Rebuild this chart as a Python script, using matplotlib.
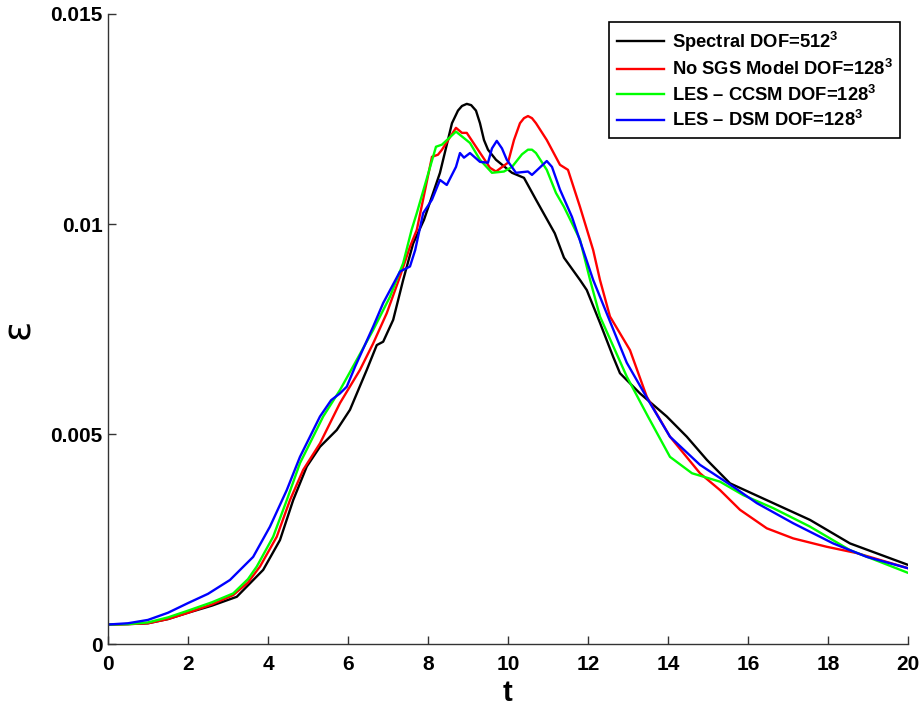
import numpy as np
import matplotlib
matplotlib.use('Agg')
import matplotlib.pyplot as plt

plt.rcParams['font.family'] = ['Liberation Sans', 'DejaVu Sans']
plt.rcParams['font.weight'] = 'bold'
plt.rcParams['mathtext.fontset'] = 'custom'
plt.rcParams['mathtext.rm'] = 'Liberation Sans'
plt.rcParams['mathtext.bf'] = 'Liberation Sans:bold'

# Spectral DOF=512^3 (black)
t_spec = [0, 0.5, 1, 1.5, 2, 2.6, 3.22, 3.88, 4.3, 4.63, 4.97, 5.3, 5.72, 6.05, 6.47, 6.72,
          6.88, 7.13, 7.38, 7.63, 7.9, 8.3, 8.6, 8.75, 8.85, 8.97, 9.08, 9.2, 9.3, 9.4, 9.5,
          9.7, 10.1, 10.4, 10.7, 11.17, 11.4, 11.8, 11.97, 12.3, 12.63, 12.8, 13.3, 13.97,
          14.47, 14.97, 15.55, 16.63, 17.55, 18.55, 20]
eps_spec = [0.00047, 0.00048, 0.0005, 0.0006, 0.00075, 0.00092, 0.00113, 0.00177, 0.00248,
            0.00343, 0.00423, 0.0047, 0.0051, 0.00558, 0.00653, 0.00712, 0.0072, 0.00772,
            0.00867, 0.00954, 0.0101, 0.01122, 0.0124, 0.0127, 0.01281, 0.01286, 0.01283,
            0.0127, 0.0124, 0.0120, 0.01177, 0.01153, 0.01122, 0.0111, 0.01058, 0.00978,
            0.0092, 0.00867, 0.00843, 0.00765, 0.00684, 0.00645, 0.00597, 0.00542, 0.00494,
            0.00439, 0.00383, 0.00336, 0.00296, 0.0024, 0.00189]

# No SGS model DOF=128^3 (red)
t_nosgs = [0, 0.5, 1, 1.5, 2, 2.6, 3.13, 3.5, 3.8, 4.22, 4.55, 4.88, 5.3, 5.8, 6.3, 6.63,
           6.97, 7.3, 7.55, 7.72, 8.1, 8.25, 8.35, 8.7, 8.85, 8.97, 9.2, 9.55, 9.7, 10.0,
           10.15, 10.3, 10.4, 10.5, 10.6, 10.7, 10.97, 11.3, 11.5, 11.8, 12.13, 12.3, 12.55,
           13.05, 13.47, 14.05, 14.8, 15.3, 15.8, 16.47, 17.13, 17.97, 18.72, 20]
eps_nosgs = [0.00047, 0.00048, 0.0005, 0.0006, 0.00075, 0.00095, 0.00117, 0.00147, 0.00185,
             0.00256, 0.00343, 0.00415, 0.00478, 0.00574, 0.00653, 0.00716, 0.00788, 0.00875,
             0.00946, 0.00986, 0.0116, 0.01165, 0.01177, 0.01229, 0.01217, 0.01217, 0.01184,
             0.01134, 0.01125, 0.01146, 0.0120, 0.0124, 0.01252, 0.01257, 0.01252, 0.0124,
             0.012, 0.01141, 0.01129, 0.01041, 0.00938, 0.00867, 0.0078, 0.0070, 0.00589,
             0.00494, 0.00407, 0.00367, 0.0032, 0.00276, 0.00252, 0.00232, 0.00217, 0.00181]

# LES - CCSM DOF=128^3 (green)
t_ccsm = [0, 0.5, 1, 1.5, 2, 2.6, 3.13, 3.5, 3.72, 4.13, 4.47, 4.8, 5.13, 5.38, 5.8, 6.22,
          6.63, 7.05, 7.38, 7.59, 7.72, 8.2, 8.35, 8.7, 9.05, 9.3, 9.6, 9.9, 10.1, 10.35,
          10.5, 10.6, 10.7, 10.97, 11.2, 11.4, 11.8, 12.05, 12.3, 12.97, 13.5, 14.05, 14.6,
          15.3, 15.88, 16.63, 17.55, 18.55, 20]
eps_ccsm = [0.00047, 0.00048, 0.00052, 0.00064, 0.0008, 0.001, 0.00121, 0.00155, 0.00185,
            0.00256, 0.00343, 0.00431, 0.00494, 0.00542, 0.00605, 0.00677, 0.00748, 0.00827,
            0.00907, 0.00986, 0.01026, 0.01184, 0.01189, 0.0122, 0.01193, 0.01153, 0.01122,
            0.01125, 0.01136, 0.01166, 0.01177, 0.01177, 0.01169, 0.01129, 0.01074, 0.01041,
            0.00963, 0.00868, 0.0078, 0.00637, 0.00542, 0.00446, 0.00407, 0.00387, 0.00355,
            0.00324, 0.0028, 0.00224, 0.0017]

# LES - DSM DOF=128^3 (blue)
t_dsm = [0, 0.5, 1, 1.5, 2, 2.5, 3.05, 3.63, 4.05, 4.47, 4.8, 5.05, 5.3, 5.58, 5.8, 5.97,
         6.18, 6.63, 6.88, 7.3, 7.55, 7.68, 7.88, 8.1, 8.3, 8.47, 8.7, 8.8, 8.9, 9.05, 9.3,
         9.5, 9.6, 9.72, 9.85, 9.97, 10.2, 10.5, 10.6, 10.97, 11.1, 11.3, 11.6, 12.13, 12.5,
         12.97, 13.5, 14.05, 14.8, 15.63, 16.22, 17.13, 18.13, 18.97, 20]
eps_dsm = [0.00047, 0.0005, 0.00058, 0.00075, 0.00098, 0.0012, 0.00153, 0.00208, 0.0028,
           0.00367, 0.00446, 0.00494, 0.00542, 0.00581, 0.00597, 0.00613, 0.00661, 0.00756,
           0.00812, 0.00887, 0.00899, 0.00938, 0.01026, 0.01058, 0.01105, 0.01093, 0.01136,
           0.01169, 0.01158, 0.01169, 0.01148, 0.01146, 0.0118, 0.01198, 0.0118, 0.01153,
           0.01122, 0.01125, 0.01117, 0.0115, 0.01136, 0.01082, 0.01017, 0.00867, 0.0078,
           0.0067, 0.00582, 0.00494, 0.00427, 0.00375, 0.00336, 0.00288, 0.0024, 0.00208,
           0.00181]

labels = ['Spectral DOF=512$^\\mathbf{3}$',
          'No SGS Model DOF=128$^\\mathbf{3}$',
          'LES \u2013 CCSM DOF=128$^\\mathbf{3}$',
          'LES \u2013 DSM DOF=128$^\\mathbf{3}$']
xticks = np.arange(0, 21, 2)
yticks = [0, 0.005, 0.01, 0.015]
yticklabels = ['0', '0.005', '0.01', '0.015']

fig = plt.figure(figsize=(9.22, 7.08), dpi=100)
ax = fig.add_axes([0.1171, 0.09, 0.8677, 0.8903])

ax.plot(t_spec, eps_spec, color='k', lw=1.7, label=labels[0])
ax.plot(t_nosgs, eps_nosgs, color='#ff0000', lw=1.7, label=labels[1])
ax.plot(t_ccsm, eps_ccsm, color='#00ff00', lw=1.7, label=labels[2])
ax.plot(t_dsm, eps_dsm, color='#0000ff', lw=1.7, label=labels[3])

ax.set_xlim(0, 20)
ax.set_ylim(0, 0.015)
ax.set_xticks(xticks)
ax.set_yticks(yticks)
ax.set_yticklabels(yticklabels)
ax.tick_params(direction='in', length=6, width=1, color='#333333', labelsize=15)
ax.tick_params(axis='x', pad=8)
ax.tick_params(axis='y', pad=4)
for s in ['top', 'right']:
    ax.spines[s].set_visible(False)
for s in ['left', 'bottom']:
    ax.spines[s].set_color('#333333')
    ax.spines[s].set_linewidth(1)

ax.set_xlabel('t', fontsize=21, fontweight='bold', labelpad=3)
ax.set_ylabel('\u03b5', fontsize=27, fontweight='normal', family=['DejaVu Sans'])
ax.yaxis.set_label_coords(-0.088, 0.5)

leg = ax.legend(loc='upper right', fontsize=13.2, frameon=True, fancybox=False,
                edgecolor='k', framealpha=1, handlelength=2.6, handletextpad=0.4,
                labelspacing=0.3, borderaxespad=0.45)
leg.get_frame().set_linewidth(1.2)

plt.savefig('out.png', dpi=100)
